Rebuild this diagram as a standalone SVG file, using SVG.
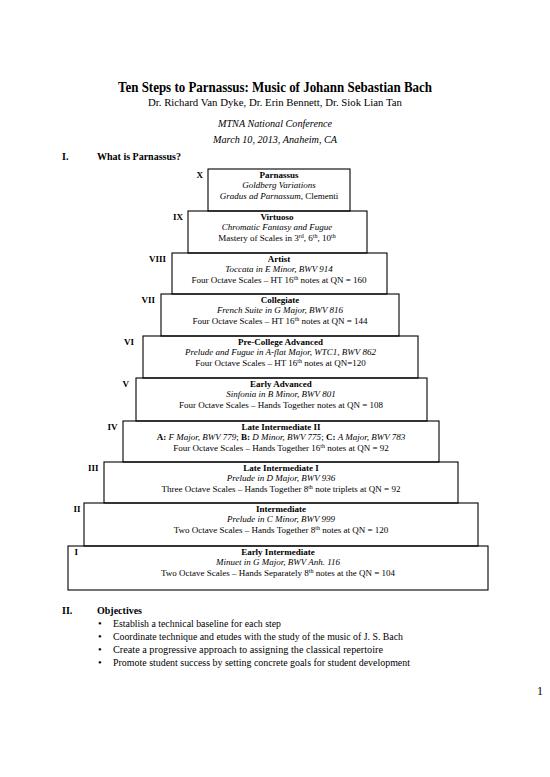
<svg xmlns="http://www.w3.org/2000/svg" width="550" height="777" viewBox="0 0 550 777">
<style>
.t{font-family:"Liberation Serif","Times New Roman",serif;fill:#000}
.b{font-size:9px;text-anchor:middle}
.hd{font-weight:bold}
.it{font-style:italic}
.lab{font-family:"Liberation Serif",serif;font-size:9px;font-weight:bold;text-anchor:end}
.box{fill:none;stroke:#000;stroke-width:1.1}
.sup{font-size:6px}
.p{font-family:"Liberation Serif","Times New Roman",serif;font-size:10.5px;fill:#000}
</style>
<rect width="550" height="777" fill="#fff"/>
<text class="t hd" x="275" y="92" font-size="14" text-anchor="middle" textLength="314" lengthAdjust="spacingAndGlyphs">Ten Steps to Parnassus: Music of Johann Sebastian Bach</text>
<text class="t" x="275" y="106" font-size="11" text-anchor="middle" textLength="254" lengthAdjust="spacingAndGlyphs">Dr. Richard Van Dyke, Dr. Erin Bennett, Dr. Siok Lian Tan</text>
<text class="t it" x="275" y="127" font-size="11" text-anchor="middle" textLength="114" lengthAdjust="spacingAndGlyphs">MTNA National Conference</text>
<text class="t it" x="275" y="143" font-size="11" text-anchor="middle" textLength="124" lengthAdjust="spacingAndGlyphs">March 10, 2013, Anaheim, CA</text>
<text class="t hd" x="62" y="160" font-size="10">I.</text>
<text class="t hd" x="97" y="160" font-size="10">What is Parnassus?</text>

<g id="step-X">
<rect class="box" x="208" y="169" width="142" height="42"/>
<text class="lab" x="203" y="177.5">X</text>
<text class="t b hd" x="279" y="177.5">Parnassus</text>
<text class="t b it" x="279" y="188">Goldberg Variations</text>
<text class="t b" x="279" y="198.5"><tspan class="it">Gradus ad Parnassum</tspan>, Clementi</text>
</g>
<g id="step-IX">
<rect class="box" x="188" y="211" width="179" height="42"/>
<text class="lab" x="183" y="219.5">IX</text>
<text class="t b hd" x="277" y="219.5">Virtuoso</text>
<text class="t b it" x="277" y="230">Chromatic Fantasy and Fugue</text>
<text class="t b" x="277" y="240.5">Mastery of Scales in 3<tspan class="sup" dy="-3">rd</tspan><tspan dy="3">, 6</tspan><tspan class="sup" dy="-3">th</tspan><tspan dy="3">, 10</tspan><tspan class="sup" dy="-3">th</tspan></text>
</g>
<g id="step-VIII">
<rect class="box" x="172" y="253" width="215" height="41"/>
<text class="lab" x="166" y="261.5">VIII</text>
<text class="t b hd" x="279" y="261.5">Artist</text>
<text class="t b it" x="279" y="272">Toccata in E Minor, BWV 914</text>
<text class="t b" x="279" y="282.5">Four Octave Scales – HT 16<tspan class="sup" dy="-3">th</tspan><tspan dy="3"> notes at QN = 160</tspan></text>
</g>
<g id="step-VII">
<rect class="box" x="161" y="294" width="238" height="42"/>
<text class="lab" x="155" y="302.5">VII</text>
<text class="t b hd" x="280" y="302.5">Collegiate</text>
<text class="t b it" x="280" y="313">French Suite in G Major, BWV 816</text>
<text class="t b" x="280" y="323.5">Four Octave Scales – HT 16<tspan class="sup" dy="-3">th</tspan><tspan dy="3"> notes at QN = 144</tspan></text>
</g>
<g id="step-VI">
<rect class="box" x="143" y="336" width="275" height="42"/>
<text class="lab" x="134" y="344.5">VI</text>
<text class="t b hd" x="280.5" y="344.5">Pre-College Advanced</text>
<text class="t b it" x="280.5" y="355">Prelude and Fugue in A-flat Major, WTC1, BWV 862</text>
<text class="t b" x="280.5" y="365.5">Four Octave Scales – HT 16<tspan class="sup" dy="-3">th</tspan><tspan dy="3"> notes at QN=120</tspan></text>
</g>
<g id="step-V">
<rect class="box" x="136" y="378" width="291" height="43"/>
<text class="lab" x="129" y="386.5">V</text>
<text class="t b hd" x="281" y="386.5">Early Advanced</text>
<text class="t b it" x="281" y="397">Sinfonia in B Minor, BWV 801</text>
<text class="t b" x="281" y="407.5">Four Octave Scales – Hands Together notes at QN = 108</text>
</g>
<g id="step-IV">
<rect class="box" x="123" y="421" width="316" height="41"/>
<text class="lab" x="117.5" y="429.5">IV</text>
<text class="t b hd" x="281" y="429.5">Late Intermediate II</text>
<text class="t b" x="281" y="440"><tspan class="hd">A: </tspan><tspan class="it">F Major, BWV 779</tspan>; <tspan class="hd">B: </tspan><tspan class="it"> D Minor, BWV 775</tspan>; <tspan class="hd">C: </tspan><tspan class="it"> A Major, BWV 783</tspan></text>
<text class="t b" x="281" y="450.5">Four Octave Scales – Hands Together 16<tspan class="sup" dy="-3">th</tspan><tspan dy="3"> notes at QN = 92</tspan></text>
</g>
<g id="step-III">
<rect class="box" x="104" y="462" width="354" height="41"/>
<text class="lab" x="98.5" y="470.5">III</text>
<text class="t b hd" x="281" y="470.5">Late Intermediate I</text>
<text class="t b it" x="281" y="481">Prelude in D Major, BWV 936</text>
<text class="t b" x="281" y="491.5">Three Octave Scales – Hands Together 8<tspan class="sup" dy="-3">th</tspan><tspan dy="3"> note triplets at QN = 92</tspan></text>
</g>
<g id="step-II">
<rect class="box" x="84" y="503" width="394" height="43"/>
<text class="lab" x="80.5" y="511.5">II</text>
<text class="t b hd" x="281" y="511.5">Intermediate</text>
<text class="t b it" x="281" y="522">Prelude in C Minor, BWV 999</text>
<text class="t b" x="281" y="532.5">Two Octave Scales – Hands Together 8<tspan class="sup" dy="-3">th</tspan><tspan dy="3"> notes at QN = 120</tspan></text>
</g>
<g id="step-I">
<rect class="box" x="68" y="546" width="420" height="44"/>
<text class="lab" x="78" y="554.5">I</text>
<text class="t b hd" x="278" y="554.5">Early Intermediate</text>
<text class="t b it" x="278" y="565">Minuet in G Major, BWV Anh. 116</text>
<text class="t b" x="278" y="575.5">Two Octave Scales – Hands Separately 8<tspan class="sup" dy="-3">th</tspan><tspan dy="3"> notes at the QN = 104</tspan></text>
</g>

<g id="objectives">
<text class="t hd" x="62" y="614" font-size="10">II.</text>
<text class="t hd" x="97" y="614" font-size="10">Objectives</text>
<text class="p" x="98" y="627">•</text>
<text class="p" x="98" y="640">•</text>
<text class="p" x="98" y="653">•</text>
<text class="p" x="98" y="666">•</text>
<text class="p" x="113" y="627" textLength="168" lengthAdjust="spacingAndGlyphs">Establish a technical baseline for each step</text>
<text class="p" x="113" y="640" textLength="290" lengthAdjust="spacingAndGlyphs">Coordinate technique and etudes with the study of the music of J. S. Bach</text>
<text class="p" x="113" y="653" textLength="270" lengthAdjust="spacingAndGlyphs">Create a progressive approach to assigning the classical repertoire</text>
<text class="p" x="113" y="666" textLength="297" lengthAdjust="spacingAndGlyphs">Promote student success by setting concrete goals for student development</text>
</g>
<text class="t" x="537" y="695" font-size="12">1</text>
</svg>
